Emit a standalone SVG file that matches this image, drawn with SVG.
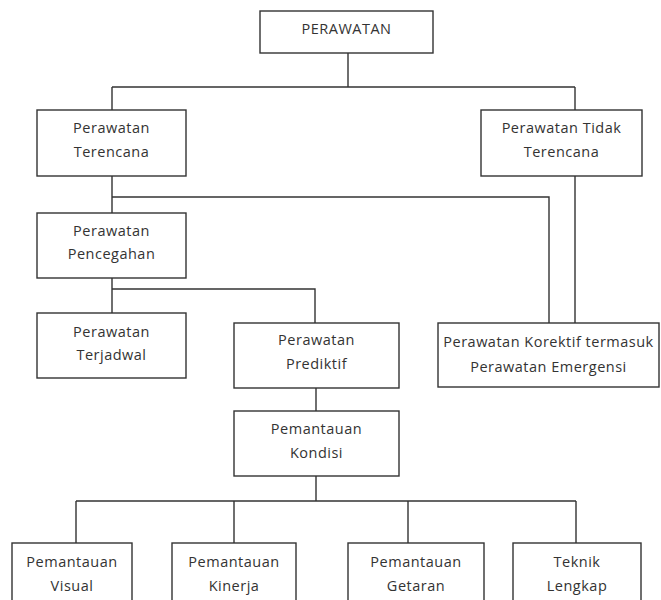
<svg xmlns="http://www.w3.org/2000/svg" width="661" height="600" viewBox="0 0 661 600">
<style>
.b{fill:#fff;stroke:#333;stroke-width:1.4}
.t{font-family:"Open Sans","Liberation Sans",sans-serif;font-size:14.5px;letter-spacing:0.5px;fill:#333;text-anchor:middle}
.c{fill:none;stroke:#333;stroke-width:1.4}
</style>
<rect width="661" height="600" fill="#fff"/>
<g id="connectors">
<path class="c" d="M348,53V87M112,87H575M112,87V110M575,87V110"/>
<path class="c" d="M112,176V213M112,197H549V323M575,176V323"/>
<path class="c" d="M112,278V313M112,289H315V323"/>
<path class="c" d="M316,388V411"/>
<path class="c" d="M316,476V501M76,501H576M76,501V543M234,501V543M408,501V543M576,501V543"/>
</g>
<g id="n-perawatan"><rect class="b" x="260" y="11" width="173" height="42"/><text class="t" x="346.5" y="34">PERAWATAN</text></g>
<g id="n-terencana"><rect class="b" x="37" y="110" width="149" height="66"/><text class="t" x="111.5" y="133">Perawatan</text><text class="t" x="111.5" y="157">Terencana</text></g>
<g id="n-tidak"><rect class="b" x="481" y="110" width="161" height="66"/><text class="t" x="561.5" y="133">Perawatan Tidak</text><text class="t" x="561.5" y="157">Terencana</text></g>
<g id="n-pencegahan"><rect class="b" x="37" y="213" width="149" height="65"/><text class="t" x="111.5" y="236">Perawatan</text><text class="t" x="111.5" y="259">Pencegahan</text></g>
<g id="n-terjadwal"><rect class="b" x="37" y="313" width="149" height="65"/><text class="t" x="111.5" y="337">Perawatan</text><text class="t" x="111.5" y="360">Terjadwal</text></g>
<g id="n-prediktif"><rect class="b" x="234" y="323" width="165" height="65"/><text class="t" x="316.5" y="345">Perawatan</text><text class="t" x="316.5" y="369">Prediktif</text></g>
<g id="n-korektif"><rect class="b" x="438" y="323" width="221" height="64"/><text class="t" x="548.5" y="347">Perawatan Korektif termasuk</text><text class="t" x="548.5" y="372">Perawatan Emergensi</text></g>
<g id="n-kondisi"><rect class="b" x="234" y="411" width="165" height="65"/><text class="t" x="316.5" y="434">Pemantauan</text><text class="t" x="316.5" y="458">Kondisi</text></g>
<g id="n-visual"><rect class="b" x="12" y="543" width="120" height="70"/><text class="t" x="72" y="567">Pemantauan</text><text class="t" x="72" y="591">Visual</text></g>
<g id="n-kinerja"><rect class="b" x="172" y="543" width="124" height="70"/><text class="t" x="234" y="567">Pemantauan</text><text class="t" x="234" y="591">Kinerja</text></g>
<g id="n-getaran"><rect class="b" x="348" y="543" width="136" height="70"/><text class="t" x="416" y="567">Pemantauan</text><text class="t" x="416" y="591">Getaran</text></g>
<g id="n-teknik"><rect class="b" x="513" y="543" width="128" height="70"/><text class="t" x="577" y="567">Teknik</text><text class="t" x="577" y="591">Lengkap</text></g>
</svg>
